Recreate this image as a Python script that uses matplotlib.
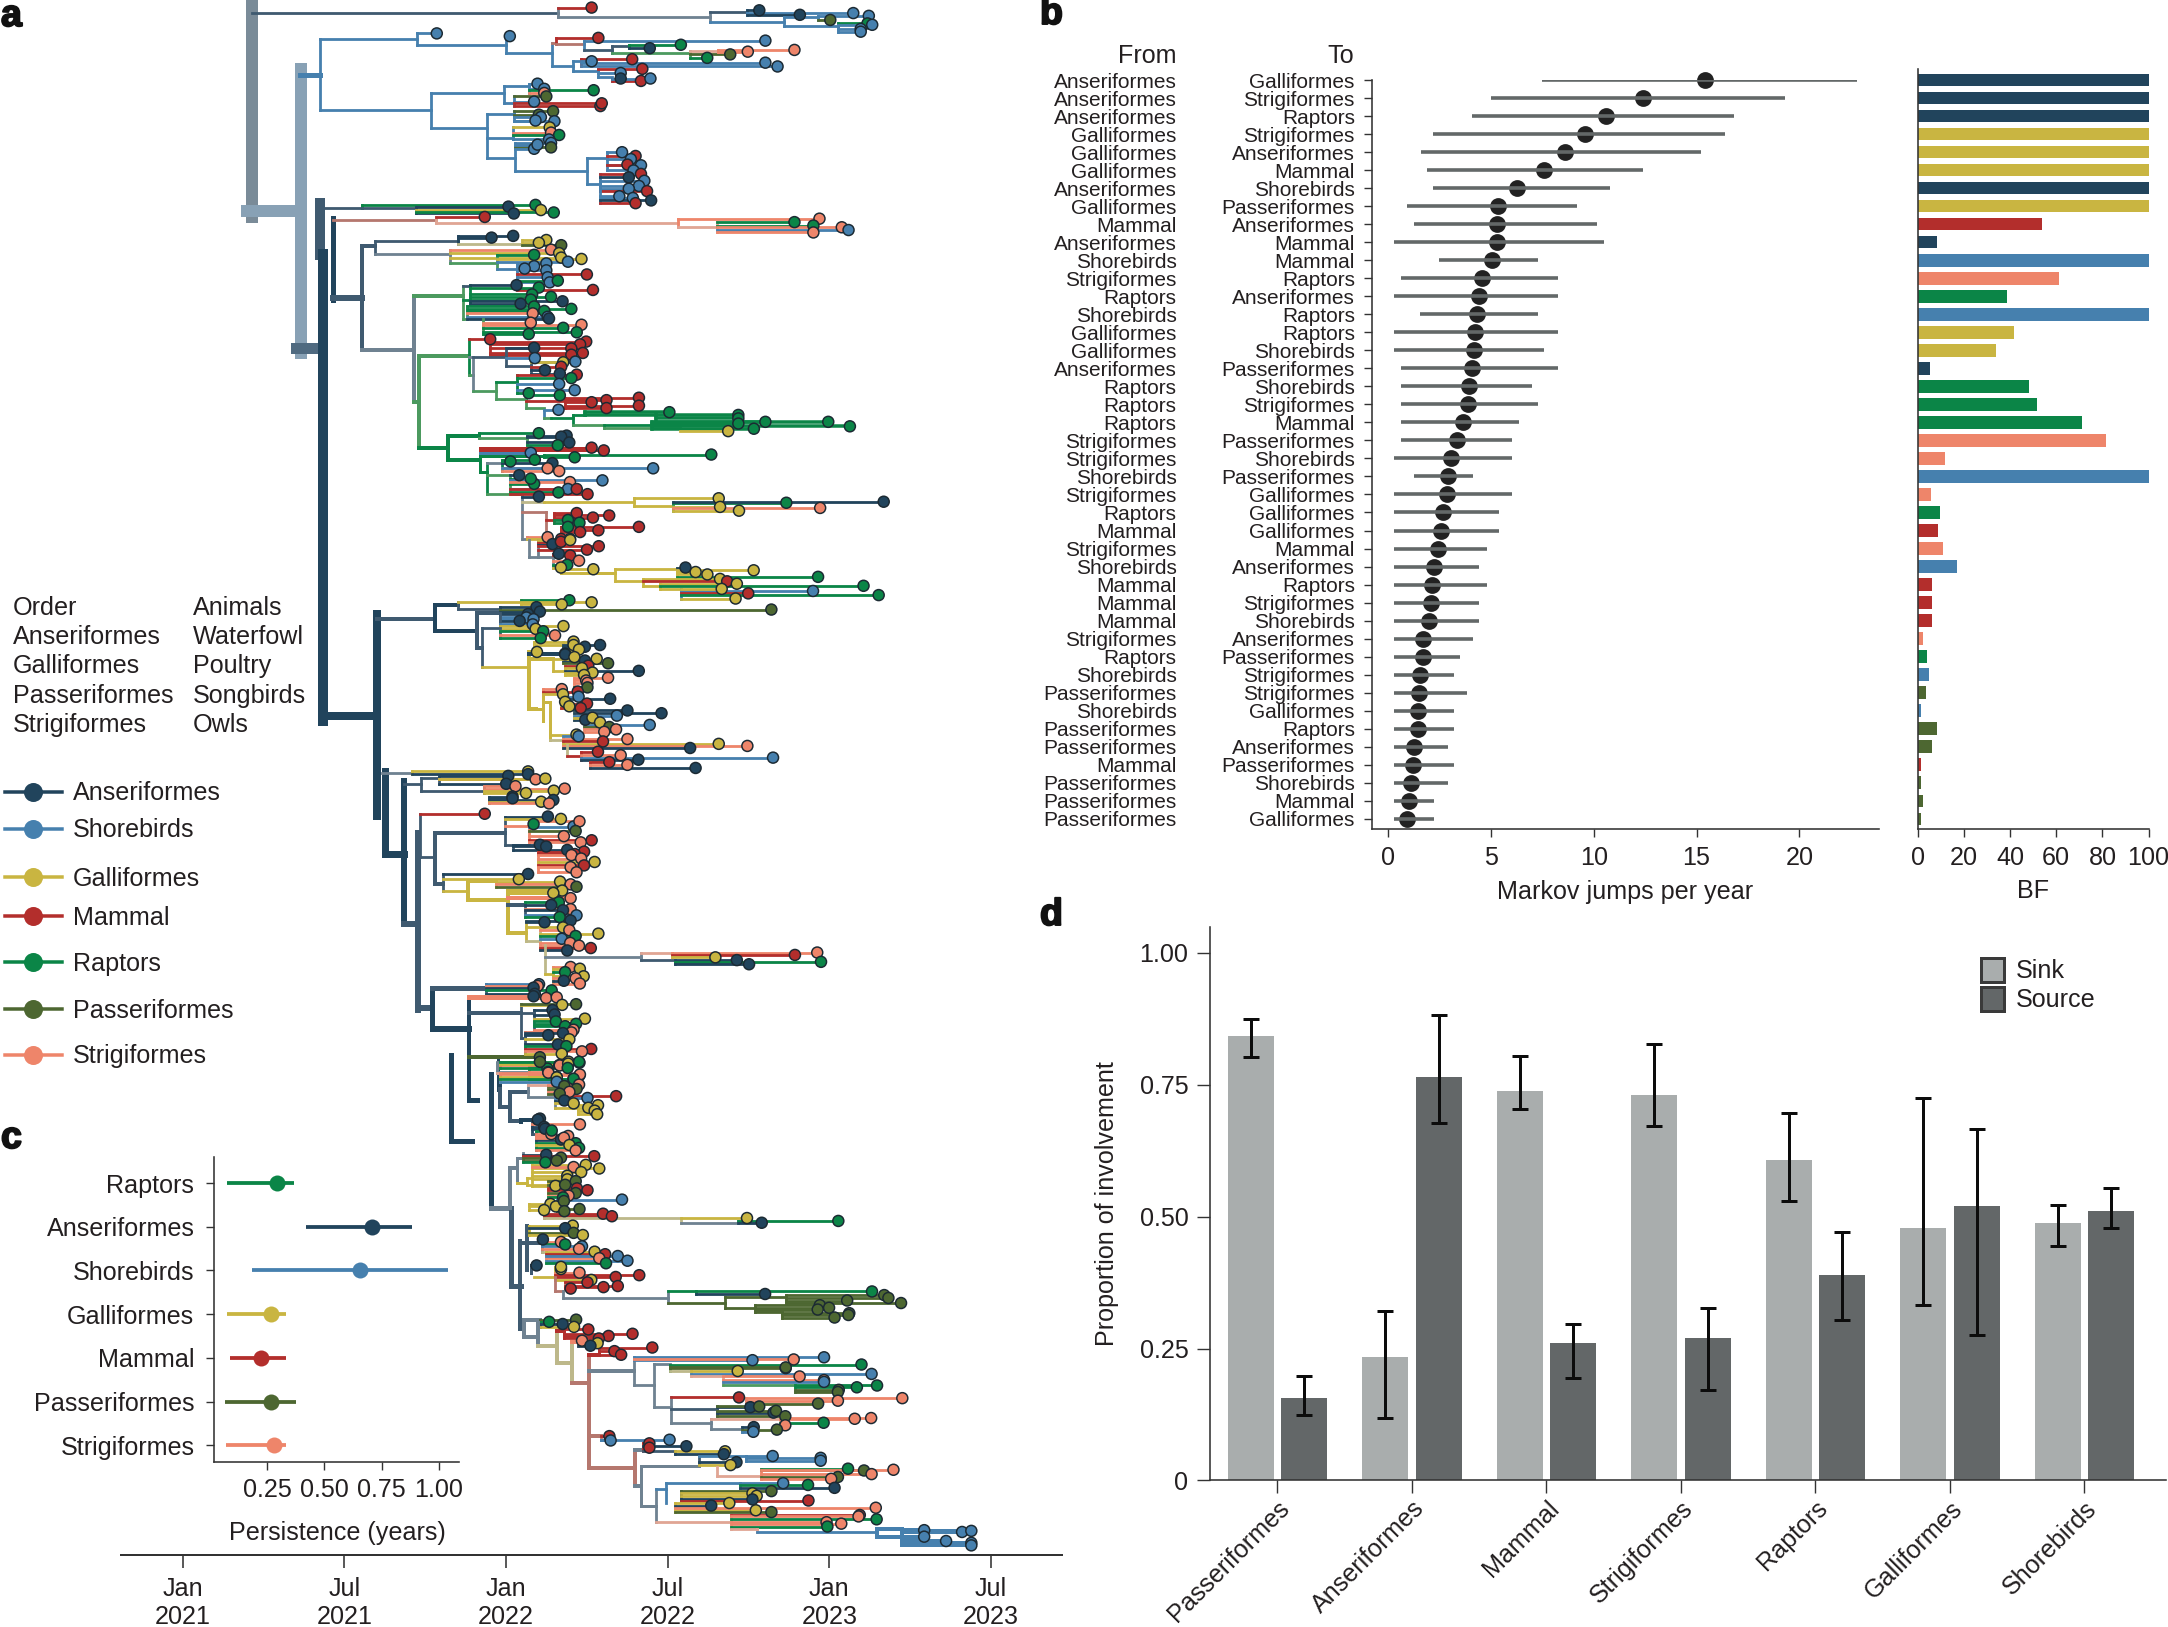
import numpy as np
import matplotlib
matplotlib.use("Agg")
import matplotlib.pyplot as plt
import matplotlib.patheffects as pe
from matplotlib.collections import LineCollection
from matplotlib.lines import Line2D
from matplotlib.patches import Rectangle

W, H, DPI = 2168, 1627, 200
PT = 72 / DPI  # one output pixel in points

plt.rcParams["font.family"] = ["Liberation Sans", "DejaVu Sans"]
plt.rcParams["font.size"] = 9.05
plt.rcParams["text.color"] = "#231f20"
plt.rcParams["axes.labelcolor"] = "#231f20"
plt.rcParams["xtick.labelcolor"] = "#231f20"
plt.rcParams["ytick.labelcolor"] = "#231f20"
plt.rcParams["axes.linewidth"] = 1.6 * PT
plt.rcParams["axes.edgecolor"] = "#333333"
plt.rcParams["xtick.color"] = "#333333"
plt.rcParams["ytick.color"] = "#333333"

COLOURS = {
    "A": "#21445c", "S": "#4680ae", "G": "#c9b541", "M": "#b32e2c",
    "R": "#0b8547", "P": "#4d6731", "O": "#ee856a",
    "x": "#6f8291", "b": "#b5776e", "k": "#bdb88a", "t": "#3f5a70", "l": "#88a1b5",
    "u": "#7a8b98", "w": "#4f6a80", "n": "#4c9a5f", "q": "#e0a594",
}
ORDER = {"Anseriformes": "A", "Shorebirds": "S", "Galliformes": "G", "Mammal": "M",
         "Raptors": "R", "Passeriformes": "P", "Strigiformes": "O"}

# panel a legend and table
TABLE_ORDER = ["Order", "Anseriformes", "Galliformes", "Passeriformes", "Strigiformes"]
TABLE_ANIMALS = ["Animals", "Waterfowl", "Poultry", "Songbirds", "Owls"]
LEGEND_ORDER = ["Anseriformes", "Shorebirds", "Galliformes", "Mammal", "Raptors",
                "Passeriformes", "Strigiformes"]

# panel a time axis
TIME_TICKS = [2021, 2021.5, 2022, 2022.5, 2023, 2023.5]
TIME_LABELS = ["Jan\n2021", "Jul\n2021", "Jan\n2022", "Jul\n2022", "Jan\n2023", "Jul\n2023"]

# panel a tree: (colour, x, [(y, x_end, colour)...], width px)
# upper case branch colour = tip at the end, unless another comb starts there
# each list was read in its own grid, see the STRIPS table
BACKBONE = [
    ("u", 252, [(6, 252, "u"), (217, 252, "u")], 12),
    ("l", 247, [(211, 301, "l")], 12),
    ("l", 301, [(69, 301, "l"), (353, 301, "l")], 12),
    ("w", 296, [(348, 318, "w")], 11),
    ("t", 320, [(203, 320, "t"), (255, 320, "t")], 10),
    ("A", 323, [(254, 323, "A"), (721, 323, "A")], 10),
    ("A", 323, [(716, 377, "A")], 8),
    ("A", 377, [(614, 377, "A"), (816, 377, "A")], 8),
    ("A", 385, [(771, 385, "A"), (854, 385, "A")], 7),
    ("A", 385, [(854, 404, "A")], 7),
    ("A", 404, [(781, 404, "A"), (924, 404, "A")], 6),
    ("t", 404, [(924, 418, "t")], 6),
    ("t", 418, [(833, 418, "t"), (1010, 418, "t")], 6),
    ("t", 418, [(1008, 432, "t")], 6),
    ("A", 432, [(988, 432, "A"), (1029, 432, "A")], 5),
    ("A", 432, [(1029, 469, "A")], 5),
    ("A", 469, [(1000, 469, "A"), (1100, 469, "A")], 4),
    ("A", 469, [(1100, 477, "A")], 5),
    ("A", 451, [(1055, 451, "A"), (1141, 451, "A")], 5),
    ("A", 451, [(1141, 472, "A")], 5),
    ("A", 491, [(1074, 491, "A"), (1208, 491, "A")], 5),
    ("A", 498, [(1060, 498, "A"), (1090, 498, "A")], 3),
    ("A", 500, [(1075, 500, "A"), (1107, 500, "A")], 3),
    ("x", 491, [(1208, 511, "x")], 5),
    ("t", 511, [(1208, 511, "t"), (1286, 511, "t")], 5),
    ("t", 511, [(1286, 521, "t")], 5),
    ("t", 520, [(1241, 520, "t"), (1329, 520, "t")], 4),
]

TREE_TOP = [
    ("t", 373, [(37, 826, "t")]),
    ("x", 826, [(22, 875, "M"), (48, 1050, "x")]),
    ("x", 1050, [(35, 1105, "t"), (63, 1160, "S")]),
    ("S", 1105, [(30, 1123, "A"), (38, 1262, "S"), (43, 1183, "A")]),
    ("S", 1160, [(50, 1210, "S"), (75, 1240, "S")]),
    ("S", 1210, [(46, 1285, "S"), (58, 1228, "P")]),
    ("S", 1240, [(68, 1283, "R"), (72, 1290, "S"), (84, 1273, "S"), (92, 1273, "S")]),
    # first shorebird clade
    ("S", 443, [(217, 473, "S")], 5),
    ("S", 473, [(113, 617, "S"), (320, 638, "S")]),
    ("S", 617, [(97, 646, "S"), (130, 748, "S")]),
    ("S", 748, [(105, 754, "S"), (155, 817, "S")]),
    ("S", 817, [(125, 822, "b"), (192, 847, "S")]),
    ("M", 822, [(110, 885, "M"), (128, 863, "b")]),
    ("S", 863, [(118, 1132, "S"), (145, 905, "t")]),
    ("t", 905, [(135, 930, "t"), (155, 1020, "n")]),
    ("R", 930, [(140, 961, "A"), (130, 1007, "R")]),
    ("n", 1020, [(148, 1062, "q"), (168, 1046, "R"), (158, 1080, "P")]),
    ("O", 1062, [(145, 1175, "O"), (150, 1106, "O")]),
    ("S", 847, [(178, 860, "S"), (205, 885, "S")]),
    ("M", 860, [(172, 935, "M"), (178, 875, "S"), (182, 1132, "S"), (193, 1150, "S")]),
    ("S", 885, [(200, 950, "M"), (212, 918, "S"), (225, 905, "S")]),
    ("S", 905, [(228, 918, "A"), (235, 948, "M"), (228, 962, "S")]),
    # second shorebird clade
    ("S", 638, [(270, 745, "S"), (372, 720, "S")]),
    ("S", 745, [(250, 782, "S"), (300, 760, "S")]),
    ("S", 782, [(243, 795, "S"), (258, 805, "S"), (262, 878, "R"), (270, 805, "O")]),
    ("S", 760, [(280, 808, "P"), (295, 790, "S"), (308, 888, "M"), (300, 890, "M")]),
    ("S", 720, [(330, 760, "S"), (400, 758, "S"), (458, 762, "S")]),
    ("S", 760, [(323, 818, "P"), (333, 797, "P"), (340, 800, "S"), (350, 792, "S"), (352, 820, "S")]),
    ("S", 758, [(370, 813, "G"), (385, 815, "O"), (392, 827, "R"), (405, 812, "S")]),
    ("S", 762, [(415, 815, "S"), (428, 815, "P"), (432, 790, "S"), (420, 795, "S"), (497, 868, "S")]),
    ("S", 868, [(460, 898, "S"), (535, 888, "S")]),
    ("S", 898, [(442, 920, "S"), (453, 940, "M"), (462, 933, "S"), (480, 948, "S"), (478, 928, "M"), (495, 937, "S")]),
    ("S", 888, [(505, 948, "M"), (515, 930, "A"), (525, 953, "S"), (540, 945, "S"), (548, 930, "S"), (555, 957, "M")]),
    ("S", 888, [(535, 888, "S"), (570, 916, "S"), (575, 936, "S"), (582, 963, "A"), (590, 940, "M")]),
    # top of the main trunk
    ("t", 473, [(603, 535, "t")]),
    ("R", 535, [(595, 792, "R"), (605, 615, "t")]),
    ("t", 615, [(600, 752, "A"), (610, 800, "G"), (620, 760, "A"), (617, 819, "R")]),
    ("A", 492, [(632, 492, "A"), (870, 492, "A")], 5),
    ("b", 492, [(638, 645, "b")]),
    ("q", 645, [(630, 717, "M"), (648, 1003, "q")]),
    ("O", 1003, [(635, 1212, "O"), (658, 1060, "q")]),
    ("q", 1060, [(645, 1175, "R"), (655, 1203, "R"), (660, 1245, "O"), (668, 1255, "S"), (675, 1203, "O")]),
    ("t", 492, [(865, 535, "t")], 6),
    ("t", 535, [(715, 555, "t"), (1015, 612, "x")], 4),
    ("t", 555, [(700, 677, "t"), (737, 665, "x")]),
    ("A", 677, [(690, 727, "A"), (685, 759, "A"), (708, 772, "k")]),
    ("k", 772, [(697, 808, "G"), (705, 797, "G"), (712, 830, "P")]),
    ("x", 665, [(725, 815, "O"), (735, 827, "G"), (748, 830, "G"), (765, 735, "n")]),
    ("n", 735, [(740, 790, "R"), (752, 860, "G"), (760, 840, "S"), (780, 765, "S")]),
    ("S", 765, [(765, 808, "S"), (773, 790, "S"), (780, 776, "S"), (785, 808, "S"), (797, 868, "M"), (805, 810, "S"), (820, 813, "S"), (815, 825, "R"), (842, 877, "M")]),
    # raptor dominated clade
    ("x", 612, [(860, 685, "n"), (1168, 620, "n")], 4),
    ("n", 685, [(830, 695, "t"), (870, 695, "R"), (925, 690, "n")]),
    ("R", 695, [(828, 764, "A"), (835, 797, "R"), (855, 787, "R"), (862, 815, "R"), (870, 785, "R"), (882, 770, "A"), (875, 832, "A")]),
    ("n", 690, [(890, 790, "R"), (897, 845, "R"), (903, 805, "R"), (910, 788, "O"), (920, 810, "S"), (925, 812, "A")]),
    ("n", 715, [(925, 715, "n"), (937, 785, "O"), (943, 860, "O"), (952, 833, "R"), (965, 853, "R"), (970, 782, "R")]),
    ("n", 620, [(1033, 693, "n"), (1300, 662, "R")], 4),
    ("R", 693, [(985, 725, "M"), (1037, 700, "x"), (1088, 700, "n")]),
    ("M", 725, [(992, 867, "M"), (1000, 858, "M"), (1012, 845, "M"), (1025, 862, "M"), (1030, 845, "M")]),
    ("x", 700, [(1037, 748, "t"), (1135, 733, "n")]),
    ("t", 748, [(1010, 790, "A"), (1040, 791, "S"), (1062, 785, "t")]),
    ("t", 785, [(1050, 851, "S"), (1052, 833, "G"), (1065, 830, "M"), (1075, 806, "A"), (1085, 828, "A")]),
    ("n", 733, [(1108, 765, "R"), (1160, 778, "n")]),
    ("R", 765, [(1088, 853, "M"), (1098, 845, "R"), (1115, 827, "S"), (1133, 850, "S"), (1142, 782, "R")]),
    ("n", 778, [(1148, 828, "R"), (1165, 835, "M"), (1185, 805, "n")]),
    ("M", 835, [(1155, 945, "M"), (1162, 897, "M"), (1168, 875, "M"), (1178, 945, "M"), (1185, 897, "M")]),
    ("S", 805, [(1190, 826, "S"), (1215, 815, "n")]),
    ("n", 815, [(1215, 847, "R")]),
    ("R", 847, [(1205, 865, "R"), (1235, 893, "n")]),
    ("R", 865, [(1197, 990, "R"), (1205, 970, "R")], 3.5),
    ("R", 970, [(1205, 1092, "R"), (1215, 1092, "R"), (1225, 1225, "R")], 3.5),
    ("n", 893, [(1235, 965, "R"), (1243, 1005, "n")]),
    ("R", 965, [(1230, 1092, "R"), (1225, 1132, "R"), (1238, 1257, "R"), (1245, 1115, "R")], 3.5),
    ("G", 1005, [(1252, 1077, "G")]),
    ("R", 662, [(1265, 708, "R"), (1335, 710, "R")], 4),
    ("R", 708, [(1258, 797, "R"), (1272, 780, "n")]),
    ("n", 780, [(1265, 838, "A"), (1268, 830, "A"), (1285, 842, "A"), (1293, 825, "R")]),
    ("R", 710, [(1300, 875, "M"), (1308, 893, "M"), (1315, 785, "S"), (1335, 710, "R"), (1325, 805, "R"), (1370, 720, "R")], 3),
    ("R", 805, [(1320, 1052, "R"), (1328, 850, "R")]),
    ("R", 720, [(1345, 742, "x"), (1380, 755, "n"), (1435, 772, "n")]),
    ("R", 742, [(1335, 791, "R"), (1345, 817, "A"), (1340, 755, "R"), (1360, 810, "O"), (1360, 966, "S"), (1368, 827, "O")]),
    ("n", 755, [(1380, 768, "A"), (1405, 790, "R"), (1390, 785, "R"), (1395, 891, "S"), (1400, 843, "O"), (1420, 840, "S"), (1430, 826, "R"), (1420, 853, "M"), (1435, 869, "M")]),
    ("x", 772, [(1442, 797, "A"), (1458, 805, "k"), (1487, 808, "b"), (1565, 780, "x")]),
    ("G", 805, [(1458, 937, "G")]),
    ("G", 937, [(1447, 1063, "G"), (1470, 995, "G")]),
    ("n", 995, [(1460, 1163, "R"), (1457, 1307, "A"), (1472, 1065, "G"), (1475, 1213, "O"), (1483, 1093, "G")]),
    ("b", 808, [(1487, 808, "b"), (1510, 820, "M"), (1565, 830, "M")]),
    ("M", 820, [(1490, 853, "M"), (1497, 901, "M"), (1503, 877, "M"), (1510, 840, "R"), (1518, 857, "R")]),
    ("M", 830, [(1530, 840, "R"), (1530, 945, "M"), (1540, 885, "M"), (1545, 858, "M")]),
    ("x", 780, [(1560, 810, "O"), (1565, 843, "G")]),
]

TREE_MID = [
    # end of the raptor clade
    ("x", 638, [(0, 638, "x"), (50, 660, "x")]),
    ("x", 660, [(12, 695, "A"), (5, 715, "M"), (0, 737, "G"), (18, 805, "M"), (28, 777, "M"), (50, 695, "x")]),
    ("x", 695, [(40, 710, "A"), (45, 737, "M"), (60, 758, "O"), (72, 730, "R"), (80, 715, "G")]),
    ("G", 715, [(85, 792, "G"), (95, 762, "G")]),
    ("G", 762, [(97, 843, "G")], 3),
    ("G", 843, [(85, 990, "G"), (120, 910, "G")]),
    ("G", 990, [(80, 1011, "A"), (88, 1173, "G"), (93, 1035, "G"), (100, 1063, "G"), (107, 1326, "R")]),
    ("G", 910, [(113, 1093, "G"), (120, 1110, "M"), (133, 950, "G")]),
    ("G", 950, [(127, 1133, "G"), (133, 1434, "R"), (142, 1000, "G")]),
    ("S", 1000, [(148, 1314, "S"), (142, 1097, "G"), (155, 1160, "M"), (160, 1470, "R"), (170, 1130, "G")]),
    # waterfowl clades
    ("A", 278, [(228, 415, "t")], 4),
    ("A", 415, [(188, 470, "A"), (265, 515, "A")], 4),
    ("t", 470, [(180, 620, "G"), (200, 570, "t")]),
    ("G", 620, [(175, 735, "R"), (181, 788, "G"), (187, 717, "G")]),
    ("t", 515, [(213, 570, "t"), (315, 528, "t")], 4),
    ("t", 570, [(195, 657, "A"), (202, 1215, "P"), (208, 665, "A"), (215, 637, "A"), (225, 633, "S"), (230, 650, "S"), (235, 617, "A")]),
    ("t", 570, [(213, 570, "t"), (245, 648, "S"), (250, 721, "G"), (258, 655, "G"), (265, 673, "R"), (277, 701, "O"), (285, 667, "R")]),
    ("t", 528, [(255, 570, "t"), (370, 640, "G")]),
    ("G", 640, [(325, 658, "G"), (330, 725, "A"), (345, 695, "G"), (490, 655, "G")], 4),
    ("G", 650, [(295, 745, "G"), (305, 745, "G"), (325, 650, "G")]),
    ("G", 720, [(295, 720, "G"), (305, 808, "A"), (310, 772, "A"), (318, 758, "G")]),
    ("G", 695, [(345, 720, "G"), (380, 725, "G")]),
    ("G", 720, [(332, 725, "A"), (340, 747, "G"), (350, 772, "A"), (345, 800, "G"), (358, 827, "P")]),
    ("G", 725, [(365, 780, "M"), (372, 765, "G"), (380, 900, "A"), (385, 790, "G"), (392, 770, "G")]),
    ("O", 745, [(400, 827, "O"), (408, 775, "O"), (415, 778, "O"), (428, 778, "P")]),
    ("G", 672, [(435, 672, "G"), (525, 672, "G")], 3),
    ("G", 655, [(490, 672, "G")], 3),
    ("O", 672, [(433, 717, "O"), (440, 755, "M"), (448, 720, "G")]),
    ("G", 688, [(470, 688, "G"), (580, 688, "G")], 3),
    ("G", 672, [(470, 688, "G")], 3),
    ("G", 715, [(455, 757, "S"), (461, 832, "A"), (470, 725, "G"), (483, 735, "G"), (475, 777, "M"), (488, 762, "M")]),
    ("k", 745, [(495, 873, "A"), (503, 954, "A"), (510, 848, "S"), (522, 773, "A"), (516, 790, "G")]),
    ("k", 770, [(530, 808, "G"), (537, 926, "S"), (543, 830, "P"), (550, 846, "O"), (557, 818, "O")]),
    ("G", 688, [(565, 752, "G"), (580, 720, "k")]),
    ("k", 720, [(570, 757, "S"), (578, 873, "O"), (585, 815, "M"), (592, 1090, "G"), (598, 1158, "O"), (604, 1022, "A")]),
    ("k", 730, [(595, 730, "k"), (628, 762, "M")]),
    ("M", 762, [(615, 803, "M"), (625, 857, "O"), (632, 1219, "S"), (638, 899, "A")]),
    ("b", 785, [(645, 830, "M"), (653, 873, "O"), (662, 1035, "A")]),
    # next trunk branch
    ("x", 290, [(677, 360, "x")]),
    ("G", 360, [(672, 637, "G"), (680, 637, "A")]),
    ("A", 342, [(708, 382, "t")]),
    ("t", 382, [(690, 425, "t"), (730, 532, "t")]),
    ("t", 425, [(685, 590, "A"), (695, 655, "O"), (693, 678, "G"), (708, 585, "A")]),
    ("t", 532, [(715, 607, "O"), (722, 724, "O"), (728, 698, "G"), (735, 632, "G")]),
    ("t", 545, [(745, 600, "A"), (750, 600, "A"), (755, 697, "A"), (760, 668, "G"), (765, 687, "O")]),
    ("t", 380, [(795, 534, "M"), (920, 415, "t")]),
    ("t", 415, [(850, 583, "t"), (1000, 435, "t")], 4),
    ("t", 583, [(803, 684, "A"), (810, 715, "G"), (830, 640, "O"), (885, 640, "t")]),
    ("O", 640, [(825, 650, "R"), (832, 745, "S"), (817, 759, "O"), (845, 750, "P"), (860, 722, "O"), (872, 788, "M"), (878, 762, "O")]),
    ("t", 600, [(885, 665, "A"), (890, 680, "A"), (900, 730, "A")]),
    ("O", 660, [(905, 770, "M"), (912, 748, "M"), (915, 740, "O"), (925, 763, "O"), (935, 795, "G"), (945, 770, "M"), (950, 738, "O"), (965, 752, "O")]),
    ("t", 435, [(970, 637, "A"), (985, 615, "G"), (1020, 495, "G")]),
    ("G", 495, [(990, 560, "G"), (1045, 590, "G")], 4),
    ("G", 560, [(992, 713, "G"), (1000, 738, "O"), (1007, 752, "P")]),
    ("G", 590, [(1018, 718, "G"), (1025, 697, "G"), (1040, 738, "O"), (1060, 630, "t"), (1140, 632, "G")], 4),
    ("t", 630, [(1052, 710, "R"), (1060, 692, "A"), (1072, 738, "O"), (1075, 720, "A"), (1090, 752, "S"), (1095, 712, "R")]),
    ("G", 632, [(1110, 676, "A"), (1105, 738, "A"), (1125, 720, "G"), (1140, 632, "G"), (1165, 665, "k")]),
    ("k", 665, [(1133, 735, "O"), (1143, 804, "G"), (1150, 750, "R"), (1158, 717, "S"), (1170, 737, "O"), (1178, 758, "O"), (1185, 786, "M"), (1192, 730, "A")]),
    ("k", 677, [(1175, 677, "k"), (1210, 905, "x"), (1260, 695, "G")]),
    ("x", 905, [(1200, 980, "q"), (1220, 985, "t")]),
    ("O", 980, [(1198, 1324, "O"), (1205, 1271, "M"), (1212, 1082, "G")]),
    ("t", 985, [(1220, 1133, "A"), (1225, 1333, "R"), (1232, 1162, "A")]),
    ("G", 695, [(1240, 738, "O"), (1245, 760, "G"), (1255, 725, "R"), (1267, 769, "G"), (1273, 750, "O"), (1280, 722, "A"), (1288, 760, "O")]),
    # lower waterfowl clades
    ("A", 408, [(1302, 537, "t"), (1418, 497, "A")], 5),
    ("t", 537, [(1290, 663, "S"), (1295, 660, "O"), (1300, 650, "A"), (1308, 693, "R"), (1318, 653, "A"), (1325, 650, "A")]),
    ("A", 497, [(1330, 680, "O"), (1328, 705, "O"), (1375, 620, "t"), (1502, 665, "P"), (1568, 497, "A")], 4),
    ("t", 620, [(1350, 718, "G"), (1348, 751, "P"), (1375, 650, "t"), (1445, 630, "t")]),
    ("t", 650, [(1365, 695, "A"), (1378, 700, "A"), (1390, 772, "G"), (1398, 703, "R"), (1405, 751, "R"), (1412, 725, "R"), (1422, 745, "O")]),
    ("t", 630, [(1430, 740, "O"), (1438, 685, "A"), (1432, 720, "A"), (1450, 735, "G"), (1465, 708, "A"), (1470, 728, "R"), (1478, 787, "M"), (1485, 765, "O"), (1492, 717, "G")]),
    ("x", 562, [(1518, 640, "x"), (1545, 640, "x")]),
    ("x", 640, [(1518, 759, "R"), (1515, 733, "G"), (1525, 711, "O"), (1535, 683, "R"), (1530, 731, "R")]),
    ("q", 640, [(1545, 685, "O"), (1555, 759, "O"), (1560, 705, "G"), (1565, 745, "R")]),
    ("A", 550, [(1550, 550, "A"), (1568, 550, "A")], 4),
    ("A", 453, [(1495, 453, "A"), (1568, 453, "A")], 5),
]

TREE_LOW = [
    ("x", 278, [(5, 278, "x"), (35, 285, "q")]),
    ("n", 285, [(5, 380, "P"), (15, 427, "O"), (10, 447, "G"), (5, 473, "R"), (22, 446, "R")]),
    ("q", 285, [(35, 400, "O"), (48, 420, "G"), (40, 475, "O"), (52, 460, "R"), (60, 420, "S")]),
    ("t", 285, [(80, 285, "t"), (130, 310, "t")], 4),
    ("t", 310, [(88, 352, "t"), (170, 335, "t")], 4),
    ("x", 352, [(70, 400, "q"), (103, 415, "x")]),
    ("q", 400, [(72, 438, "P"), (68, 473, "O"), (80, 467, "P"), (88, 450, "O"), (93, 427, "P")]),
    ("x", 415, [(100, 561, "M"), (105, 493, "S"), (112, 438, "A"), (120, 470, "G"), (132, 495, "G")]),
    ("G", 470, [(120, 460, "G"), (125, 518, "G"), (140, 510, "G"), (150, 516, "G")]),
    ("A", 335, [(165, 360, "A"), (172, 335, "A")], 4),
    ("A", 360, [(162, 380, "A"), (165, 375, "A"), (178, 475, "O"), (185, 390, "A"), (190, 392, "A"), (205, 370, "t")]),
    ("t", 370, [(205, 407, "O"), (195, 408, "R"), (220, 430, "A"), (210, 447, "O"), (215, 437, "O"), (230, 465, "R"), (235, 450, "G"), (243, 473, "R"), (250, 465, "O")]),
    ("x", 310, [(410, 310, "x"), (300, 325, "x")], 4),
    ("x", 325, [(270, 340, "x"), (340, 350, "G")], 3),
    ("x", 340, [(258, 340, "x"), (262, 395, "A"), (266, 509, "M"), (270, 430, "P"), (278, 420, "P"), (283, 393, "R")]),
    ("G", 360, [(290, 489, "G"), (300, 521, "G"), (296, 460, "O"), (310, 478, "G"), (320, 445, "G"), (330, 445, "G"), (348, 417, "G")]),
    ("G", 350, [(325, 360, "G"), (345, 400, "G")]),
    ("G", 400, [(335, 465, "P"), (345, 440, "P"), (355, 468, "M"), (360, 493, "M"), (368, 465, "P"), (375, 448, "O"), (380, 435, "R")]),
    ("G", 355, [(405, 310, "G"), (398, 405, "G"), (405, 418, "G"), (415, 390, "G")]),
    ("x", 420, [(386, 575, "S"), (390, 437, "P"), (412, 474, "P"), (418, 438, "P")]),
    ("b", 390, [(425, 530, "M"), (432, 551, "M"), (437, 715, "k")]),
    ("k", 715, [(437, 872, "G"), (450, 850, "x")]),
    ("x", 850, [(445, 1089, "R"), (450, 907, "A")]),
    ("t", 333, [(505, 333, "t"), (745, 333, "t")], 4),
    ("t", 350, [(460, 350, "t"), (580, 350, "t")], 4),
    ("t", 333, [(505, 385, "t"), (620, 333, "t")], 4),
    ("G", 355, [(458, 458, "G"), (465, 440, "A"), (478, 460, "P"), (484, 482, "G")]),
    ("t", 385, [(496, 387, "A"), (503, 430, "O"), (510, 440, "R"), (515, 480, "S"), (522, 473, "O"), (530, 395, "k")]),
    ("k", 395, [(530, 510, "G"), (537, 535, "M"), (548, 521, "O"), (542, 565, "S"), (555, 588, "S"), (562, 537, "R")]),
    ("t", 358, [(568, 372, "A"), (590, 358, "t")], 3),
    ("G", 365, [(600, 415, "G")]),
    ("G", 415, [(578, 430, "G"), (572, 430, "G"), (588, 474, "O"), (595, 616, "M"), (600, 560, "M"), (608, 502, "G")]),
    ("b", 415, [(600, 415, "b"), (640, 435, "b")]),
    ("b", 440, [(615, 493, "M"), (625, 565, "M"), (628, 531, "M"), (632, 453, "M")]),
    ("x", 435, [(640, 435, "x"), (657, 685, "x")]),
    ("x", 685, [(640, 750, "R"), (672, 820, "P")]),
    ("R", 750, [(640, 1169, "R"), (647, 915, "A")]),
    ("P", 820, [(655, 965, "P"), (685, 890, "P")]),
    ("P", 965, [(650, 1198, "P"), (658, 1208, "P"), (665, 1110, "P"), (672, 1238, "P")]),
    ("P", 890, [(678, 1045, "P"), (685, 1067, "P"), (690, 1040, "P"), (697, 955, "P")]),
    ("P", 955, [(700, 1115, "P"), (705, 1113, "P"), (712, 1080, "P")]),
    # bottom clades
    ("t", 333, [(745, 342, "t")], 4),
    ("x", 342, [(718, 380, "x"), (765, 375, "x")], 4),
    ("A", 380, [(718, 466, "P"), (724, 402, "R"), (730, 434, "A"), (738, 461, "G")]),
    ("x", 375, [(728, 375, "x"), (790, 420, "k")], 4),
    ("k", 420, [(750, 438, "M"), (838, 457, "k")], 4),
    ("M", 438, [(745, 495, "M"), (750, 438, "M"), (757, 600, "M"), (763, 543, "M"), (770, 520, "M")]),
    ("k", 457, [(780, 470, "O"), (893, 497, "b")], 4),
    ("O", 470, [(776, 480, "O"), (783, 517, "G"), (790, 500, "A")]),
    ("b", 497, [(815, 520, "M"), (860, 603, "x"), (1040, 525, "b"), (1128, 607, "b")], 4),
    ("M", 520, [(795, 647, "M"), (805, 557, "M"), (815, 573, "M")]),
    ("x", 603, [(822, 1055, "S"), (830, 885, "S"), (828, 983, "O"), (900, 650, "x")]),
    ("x", 650, [(840, 690, "x"), (960, 692, "x")]),
    ("R", 690, [(842, 1144, "R"), (852, 964, "P"), (850, 964, "P"), (860, 740, "k")]),
    ("k", 740, [(860, 850, "G"), (868, 1168, "S"), (875, 815, "q")]),
    ("q", 815, [(875, 997, "O"), (885, 1055, "O"), (890, 1055, "S"), (900, 985, "n")]),
    ("n", 985, [(900, 1181, "R"), (905, 1133, "R"), (912, 1090, "P"), (918, 1088, "P")]),
    ("x", 692, [(933, 853, "M"), (965, 800, "t"), (1003, 787, "x")]),
    ("q", 870, [(935, 1241, "O"), (942, 1088, "O"), (950, 1041, "P")]),
    ("t", 800, [(960, 880, "A"), (958, 901, "P"), (975, 935, "A"), (970, 941, "P"), (985, 963, "P")]),
    ("x", 787, [(992, 950, "q"), (1020, 860, "x")]),
    ("q", 950, [(992, 1128, "O"), (990, 1167, "O"), (1003, 1054, "R"), (1010, 963, "O")]),
    ("x", 860, [(1015, 888, "A"), (1022, 943, "P"), (1028, 887, "S")]),
    ("b", 525, [(1040, 545, "M"), (1050, 688, "S"), (1052, 548, "S")]),
    ("b", 607, [(1078, 625, "x"), (1178, 620, "x")], 4),
    ("M", 625, [(1060, 640, "M"), (1072, 640, "M"), (1068, 728, "A"), (1082, 700, "t")]),
    ("t", 700, [(1082, 820, "G"), (1090, 817, "A")]),
    ("x", 620, [(1122, 758, "x"), (1232, 655, "x")], 3),
    ("t", 758, [(1112, 847, "A"), (1120, 833, "G"), (1095, 870, "S")]),
    ("S", 870, [(1095, 933, "S"), (1100, 1047, "S"), (1108, 1047, "S")]),
    ("q", 800, [(1125, 800, "q"), (1150, 905, "q")]),
    ("O", 905, [(1130, 1112, "R"), (1135, 1150, "P"), (1133, 1220, "O"), (1145, 1168, "O"), (1153, 1088, "P"), (1158, 1072, "O")]),
    ("x", 655, [(1185, 680, "S"), (1278, 835, "q")]),
    ("S", 680, [(1170, 855, "S"), (1225, 680, "G")]),
    ("S", 855, [(1170, 958, "S"), (1175, 1017, "R"), (1183, 1080, "A")]),
    ("A", 715, [(1192, 930, "P"), (1198, 885, "G"), (1205, 895, "G"), (1215, 885, "A"), (1218, 1018, "M")]),
    ("G", 700, [(1225, 830, "G"), (1232, 787, "A"), (1245, 893, "G"), (1250, 930, "P"), (1238, 1178, "O")]),
    ("q", 835, [(1258, 1140, "M"), (1262, 1137, "O"), (1270, 1180, "R"), (1278, 1061, "O"), (1282, 1096, "O"), (1290, 1063, "R"), (1298, 895, "q")]),
    ("q", 895, [(1298, 895, "q"), (1305, 1180, "S")]),
    ("S", 1180, [(1297, 1240, "S"), (1318, 1240, "S")], 4),
    ("S", 1240, [(1300, 1293, "S"), (1305, 1383, "S"), (1302, 1405, "S"), (1318, 1293, "S"), (1330, 1345, "S"), (1335, 1405, "S"), (1342, 1405, "S")], 4),
]

# reading grid of each list: x offset, x scale, y offset, y scale
STRIPS = [
    (BACKBONE, 0, 1, 0, 1),
    (TREE_TOP, 0, 1.479, 0, 2.904),
    (TREE_MID, 260, 2.376, 540, 2.904),
    (TREE_LOW, 380, 2.376, 1060, 2.765),
]

# panel b
B_FROM = ["Anseriformes", "Anseriformes", "Anseriformes", "Galliformes", "Galliformes", "Galliformes",
          "Anseriformes", "Galliformes", "Mammal", "Anseriformes", "Shorebirds", "Strigiformes",
          "Raptors", "Shorebirds", "Galliformes", "Galliformes", "Anseriformes", "Raptors", "Raptors",
          "Raptors", "Strigiformes", "Strigiformes", "Shorebirds", "Strigiformes", "Raptors", "Mammal",
          "Strigiformes", "Shorebirds", "Mammal", "Mammal", "Mammal", "Strigiformes", "Raptors",
          "Shorebirds", "Passeriformes", "Shorebirds", "Passeriformes", "Passeriformes", "Mammal",
          "Passeriformes", "Passeriformes", "Passeriformes"]
B_TO = ["Galliformes", "Strigiformes", "Raptors", "Strigiformes", "Anseriformes", "Mammal",
        "Shorebirds", "Passeriformes", "Anseriformes", "Mammal", "Mammal", "Raptors",
        "Anseriformes", "Raptors", "Raptors", "Shorebirds", "Passeriformes", "Shorebirds", "Strigiformes",
        "Mammal", "Passeriformes", "Shorebirds", "Passeriformes", "Galliformes", "Galliformes", "Galliformes",
        "Mammal", "Anseriformes", "Raptors", "Strigiformes", "Shorebirds", "Anseriformes", "Passeriformes",
        "Strigiformes", "Strigiformes", "Galliformes", "Raptors", "Anseriformes", "Passeriformes",
        "Shorebirds", "Mammal", "Galliformes"]
B_JUMPS = [15.4, 12.4, 10.6, 9.6, 8.6, 7.6, 6.25, 5.35, 5.3, 5.3, 5.05, 4.55, 4.45, 4.35, 4.25, 4.2,
           4.1, 3.95, 3.9, 3.65, 3.35, 3.05, 2.9, 2.85, 2.7, 2.6, 2.45, 2.25, 2.15, 2.1, 2.0, 1.7,
           1.7, 1.55, 1.5, 1.45, 1.45, 1.25, 1.2, 1.1, 1.0, 0.95]
B_LOW = [7.5, 5.0, 4.1, 2.2, 1.6, 1.9, 2.2, 0.95, 1.25, 0.3, 2.5, 0.65, 0.3, 1.55, 0.3, 0.3, 0.65,
         0.65, 0.65, 0.65, 0.65, 0.3, 1.25, 0.3, 0.3, 0.3, 0.3, 0.3, 0.3, 0.3, 0.3, 0.3, 0.3, 0.3,
         0.3, 0.3, 0.3, 0.3, 0.3, 0.3, 0.3, 0.3]
B_HIGH = [22.8, 19.3, 16.8, 16.4, 15.2, 12.4, 10.8, 9.2, 10.15, 10.5, 7.3, 8.25, 8.25, 7.3, 8.25, 7.6,
          8.25, 7.0, 7.3, 6.35, 6.05, 6.05, 4.15, 6.05, 5.4, 5.4, 4.8, 4.45, 4.8, 4.45, 4.45, 4.15,
          3.5, 3.2, 3.85, 3.2, 3.2, 2.9, 3.2, 2.9, 2.25, 2.25]
B_BF = [100, 100, 100, 100, 100, 100, 100, 100, 53.9, 8.4, 100, 61, 38.6, 100, 41.7, 34, 5.3, 48, 51.7,
        71, 81.6, 11.8, 100, 5.6, 9.7, 8.7, 10.9, 17.1, 6.2, 6.2, 6.2, 2.2, 4, 4.7, 3.4, 1.6, 8.4, 6.2,
        1.6, 1.6, 2.2, 1.6]

# panel c
C_ORDERS = ["Raptors", "Anseriformes", "Shorebirds", "Galliformes", "Mammal", "Passeriformes", "Strigiformes"]
C_MEDIAN = [0.292, 0.707, 0.654, 0.266, 0.222, 0.266, 0.28]
C_LOW = [0.074, 0.419, 0.183, 0.074, 0.089, 0.067, 0.072]
C_HIGH = [0.368, 0.882, 1.04, 0.332, 0.332, 0.375, 0.333]

# panel d
D_ORDERS = ["Passeriformes", "Anseriformes", "Mammal", "Strigiformes", "Raptors", "Galliformes", "Shorebirds"]
D_SINK = [0.843, 0.234, 0.739, 0.730, 0.608, 0.478, 0.487]
D_SINK_LOW = [0.802, 0.118, 0.704, 0.672, 0.529, 0.332, 0.445]
D_SINK_HIGH = [0.875, 0.321, 0.805, 0.828, 0.696, 0.724, 0.522]
D_SOURCE = [0.156, 0.765, 0.26, 0.269, 0.39, 0.521, 0.511]
D_SOURCE_LOW = [0.124, 0.678, 0.195, 0.171, 0.304, 0.275, 0.478]
D_SOURCE_HIGH = [0.198, 0.883, 0.296, 0.327, 0.47, 0.667, 0.555]


def px_axes(fig, x0, y0, x1, y1):
    # axes from a box given in image pixels, y going down
    return fig.add_axes([x0 / W, 1 - y1 / H, (x1 - x0) / W, (y1 - y0) / H])


def px_to_year(px):
    return 2021 + (np.asarray(px, dtype=float) - 182.7) / 323.3


def starts_comb(combs, xe, y):
    # a branch that ends where another comb starts is internal and has no tip
    for comb in combs:
        ys = [it[0] for it in comb[2]]
        if comb[1] == xe and min(ys) - 4 <= y <= max(ys) + 4:
            return True
    return False


def tree_marks():
    segs, seg_cols, seg_w = [], [], []
    tips_x, tips_y, tips_c = [], [], []
    for combs, ox, sx, oy, sy in STRIPS:
        for comb in combs:
            col, x, items = comb[0], comb[1], comb[2]
            lw = comb[3] if len(comb) > 3 else 2.8
            xv = ox + x / sx
            ys = [oy + it[0] / sy for it in items]
            if max(ys) > min(ys):
                segs.append([(px_to_year(xv), min(ys)), (px_to_year(xv), max(ys))])
                seg_cols.append(COLOURS[col])
                seg_w.append(lw * PT)
            for it, yy in zip(items, ys):
                xe = ox + it[1] / sx
                if xe > xv:
                    segs.append([(px_to_year(xv), yy), (px_to_year(xe), yy)])
                    seg_cols.append(COLOURS[it[2]])
                    seg_w.append(lw * PT)
                if combs is BACKBONE or it[2] not in "ASGMRPO" or it[1] == x:
                    continue
                if not starts_comb(combs, it[1], it[0]):
                    tips_x.append(px_to_year(xe))
                    tips_y.append(yy)
                    tips_c.append(COLOURS[it[2]])
    return segs, seg_cols, seg_w, tips_x, tips_y, tips_c


fig = plt.figure(figsize=(W / DPI, H / DPI), dpi=DPI)

# panel a
ax_a = px_axes(fig, 121, 0, 1062, 1555)
ax_a.set_xlim(px_to_year(121), px_to_year(1062))
ax_a.set_ylim(1555, 0)
segs, seg_cols, seg_w, tips_x, tips_y, tips_c = tree_marks()
ax_a.add_collection(LineCollection(segs, colors=seg_cols, linewidths=seg_w, capstyle="projecting", zorder=2))
ax_a.scatter(tips_x, tips_y, s=(11 * PT) ** 2, c=tips_c, edgecolors="#1c2a33", linewidths=1.5 * PT, zorder=3)
for side in ["top", "left", "right"]:
    ax_a.spines[side].set_visible(False)
ax_a.spines["bottom"].set_linewidth(2 * PT)
ax_a.set_yticks([])
ax_a.set_xticks(TIME_TICKS)
ax_a.set_xticklabels(TIME_LABELS, linespacing=1.2)
ax_a.tick_params(axis="x", length=13 * PT, width=1.6 * PT, pad=3.4)
ax_a.patch.set_alpha(0)

# panel b, Markov jumps
rows = np.arange(len(B_FROM))
ax_b = px_axes(fig, 1371.7, 80, 1879, 829.3)
ax_b.set_xlim(-0.79, 23.87)
ax_b.set_ylim(41.58, 0)
ax_b.scatter(B_JUMPS, rows, s=(14 * PT) ** 2, color="#222222", zorder=2, clip_on=False)
ax_b.hlines(rows, B_LOW, B_HIGH, color="#636868", linewidth=3.6 * PT, zorder=3)
ax_b.spines["top"].set_visible(False)
ax_b.spines["right"].set_visible(False)
ax_b.set_xticks([0, 5, 10, 15, 20])
ax_b.set_yticks(rows)
ax_b.set_yticklabels(B_TO, fontsize=7.5)
ax_b.tick_params(axis="y", length=8 * PT, width=1.4 * PT, pad=3.2)
ax_b.tick_params(axis="x", length=8 * PT, width=1.4 * PT, pad=3)
ax_b.set_xlabel("Markov jumps per year", labelpad=5)
ax_b.xaxis.set_label_coords((1625 - 1371.7) / 507.3, -0.067)
for r, name in zip(rows, B_FROM):
    ax_b.text((1176.7 - 1371.7) / 507.3, r, name, transform=ax_b.get_yaxis_transform(),
              ha="right", va="center_baseline", fontsize=7.5)
ax_b.text((1176.7 - 1371.7) / 507.3, -1.35, "From", transform=ax_b.get_yaxis_transform(), ha="right", va="center")
ax_b.text((1354.4 - 1371.7) / 507.3, -1.35, "To", transform=ax_b.get_yaxis_transform(), ha="right", va="center")

# panel b, Bayes factor
ax_bf = px_axes(fig, 1917.7, 69, 2148.6, 829.3)
ax_bf.set_xlim(0, 100)
ax_bf.set_ylim(41.58, -0.61)
ax_bf.barh(rows, B_BF, height=0.7, color=[COLOURS[ORDER[n]] for n in B_FROM])
ax_bf.spines["top"].set_visible(False)
ax_bf.spines["right"].set_visible(False)
ax_bf.set_yticks([])
ax_bf.set_xticks([0, 20, 40, 60, 80, 100])
ax_bf.tick_params(axis="x", length=8 * PT, width=1.4 * PT, pad=3)
ax_bf.set_xlabel("BF")
ax_bf.xaxis.set_label_coords((2033 - 1917.7) / 230.9, -0.066)

# panel c
ypos = np.arange(len(C_ORDERS))
ax_c = px_axes(fig, 214, 1157, 459, 1462)
ax_c.set_xlim(0.019, 1.087)
ax_c.set_ylim(6.384, -0.595)
for i, name in enumerate(C_ORDERS):
    col = COLOURS[ORDER[name]]
    ax_c.errorbar(C_MEDIAN[i], i, xerr=[[C_MEDIAN[i] - C_LOW[i]], [C_HIGH[i] - C_MEDIAN[i]]], color=col,
                  elinewidth=3.8 * PT, capsize=4 * PT, capthick=3 * PT,
                  marker="o", markersize=16 * PT, markeredgewidth=0, clip_on=False)
ax_c.spines["top"].set_visible(False)
ax_c.spines["right"].set_visible(False)
ax_c.set_yticks(ypos)
ax_c.set_yticklabels(C_ORDERS)
ax_c.set_xticks([0.25, 0.5, 0.75, 1.0])
ax_c.set_xticklabels(["0.25", "0.50", "0.75", "1.00"])
ax_c.tick_params(axis="y", length=8 * PT, width=1.4 * PT, pad=4.2)
ax_c.tick_params(axis="x", length=8 * PT, width=1.4 * PT, pad=3)
ax_c.set_xlabel("Persistence (years)")
ax_c.xaxis.set_label_coords((337 - 214) / 245, -0.195)
ax_c.patch.set_alpha(0)

# panel d
xpos = np.arange(len(D_ORDERS))
ax_d = px_axes(fig, 1209.8, 927, 2166, 1480.4)
ax_d.set_xlim(-0.503, 6.607)
ax_d.set_ylim(0, 1.049)
sink = np.array(D_SINK)
source = np.array(D_SOURCE)
ax_d.bar(xpos - 0.198, sink, width=0.342, color="#a9adad")
ax_d.bar(xpos + 0.198, source, width=0.342, color="#636768")
ax_d.errorbar(xpos - 0.198, sink, yerr=[sink - np.array(D_SINK_LOW), np.array(D_SINK_HIGH) - sink], fmt="none",
              ecolor="#0c0c0c", elinewidth=3 * PT, capsize=8 * PT, capthick=3 * PT)
ax_d.errorbar(xpos + 0.198, source, yerr=[source - np.array(D_SOURCE_LOW), np.array(D_SOURCE_HIGH) - source],
              fmt="none", ecolor="#0c0c0c", elinewidth=3 * PT, capsize=8 * PT, capthick=3 * PT)
ax_d.spines["top"].set_visible(False)
ax_d.spines["right"].set_visible(False)
ax_d.set_yticks([0, 0.25, 0.5, 0.75, 1.0])
ax_d.set_yticklabels(["0", "0.25", "0.50", "0.75", "1.00"])
ax_d.set_xticks(xpos)
ax_d.set_xticklabels(D_ORDERS, rotation=45, ha="right", va="top", rotation_mode="anchor")
ax_d.tick_params(axis="y", length=13 * PT, width=1.4 * PT, pad=3)
ax_d.tick_params(axis="x", length=13 * PT, width=1.4 * PT, pad=1)
ax_d.set_ylabel("Proportion of involvement")
ax_d.yaxis.set_label_coords((1119 - 1209.8) / 956.2, (1480.4 - 1204) / 553.4)

# everything else placed on the page in image pixels
ov = fig.add_axes([0, 0, 1, 1], zorder=10)
ov.set_xlim(0, W)
ov.set_ylim(H, 0)
ov.axis("off")

for label, x, y in [("a", 1, 16), ("b", 1040, 14), ("c", 1, 1138), ("d", 1040, 915)]:
    ov.text(x, y, label, fontsize=13.5, fontweight="bold", color="#111111", ha="left", va="center",
            path_effects=[pe.withStroke(linewidth=0.7, foreground="#111111")])

table_y = [608, 637, 666, 695.6, 725]
for y, left, right in zip(table_y, TABLE_ORDER, TABLE_ANIMALS):
    ov.text(13, y, left, va="center")
    ov.text(193, y, right, va="center")

legend_y = [791.7, 829, 877.3, 916.3, 962.3, 1009.3, 1054.7]
for y, name in zip(legend_y, LEGEND_ORDER):
    col = COLOURS[ORDER[name]]
    ov.add_line(Line2D([5, 62], [y, y], color=col, linewidth=3.5 * PT))
    ov.add_line(Line2D([33], [y], marker="o", markersize=19 * PT, color=col, markeredgewidth=0))
    ov.text(73, y + 1.3, name, va="center")

for y0, col, name in [(958, "#a9adad", "Sink"), (987, "#636768", "Source")]:
    ov.add_patch(Rectangle((1981, y0), 23, 24, facecolor=col, edgecolor="#3a3a3a", linewidth=3 * PT))
    ov.text(2016, y0 + 13, name, va="center")

fig.savefig("out.png", dpi=DPI)
